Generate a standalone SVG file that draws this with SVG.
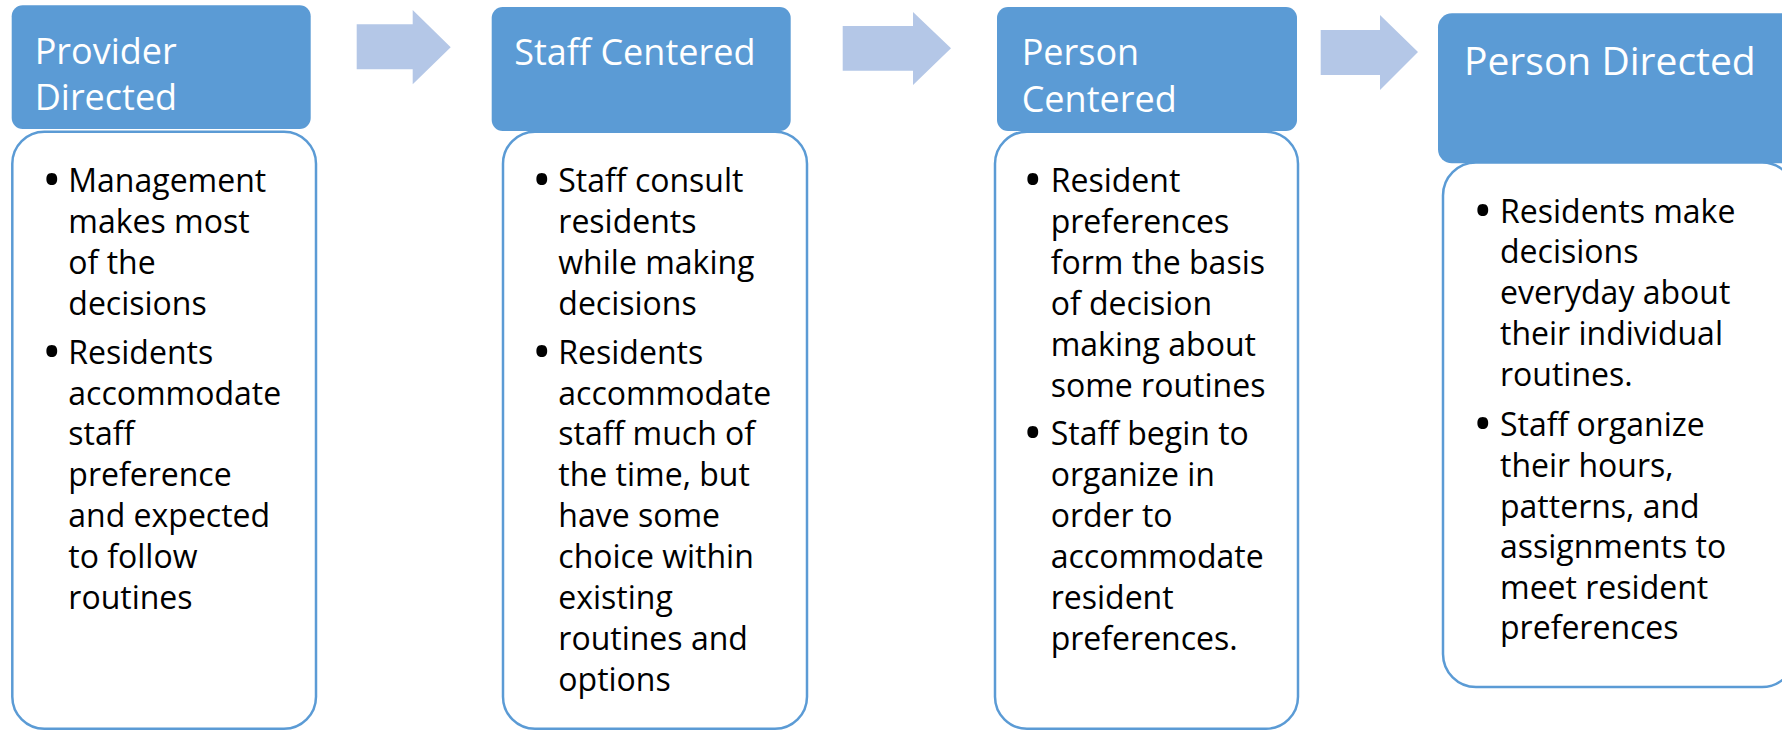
<svg xmlns="http://www.w3.org/2000/svg" width="1782" height="731" viewBox="0 0 1782 731">
  <style>
    .hdr { fill: #5B9BD5; }
    .body { fill: #FFFFFF; stroke: #5B9BD5; stroke-width: 2.5; }
    .arrow { fill: #B4C7E7; }
    .title { font-family: "Open Sans", "Noto Sans", sans-serif; font-size: 36px; fill: #FFFFFF; }
    .title4 { font-size: 39px; }
    .txt { font-family: "Open Sans", "Noto Sans", sans-serif; font-size: 32px; fill: #000000; }
    .blt { font-family: "Open Sans", "Noto Sans", sans-serif; font-size: 52px; fill: #000000; }
  </style>
  <rect width="1782" height="731" fill="#FFFFFF"/>

  <g id="connectors">
    <polygon class="arrow" points="356.7,24.3 412.7,24.3 412.7,10 450.7,47.3 412.7,84.3 412.7,69.3 356.7,69.3"/>
    <polygon class="arrow" points="842.7,26 913,26 913,12 951,48.3 913,85 913,70.7 842.7,70.7"/>
    <polygon class="arrow" points="1320.7,30 1380,30 1380,15 1418,52 1380,90 1380,75 1320.7,75"/>
  </g>

  <g id="node-provider-directed">
    <rect class="hdr" x="11.7" y="5.3" width="299" height="123.7" rx="11"/>
    <text class="title"><tspan x="34.7" y="64">Provider</tspan><tspan x="34.7" y="110">Directed</tspan></text>
    <rect class="body" x="12.3" y="131.7" width="303.7" height="597" rx="32"/>
    <text class="blt"><tspan x="42" y="198">•</tspan><tspan x="42" y="369.5">•</tspan></text>
    <text class="txt">
      <tspan x="68.3" y="192.1">Management</tspan>
      <tspan x="68.3" y="233">makes most</tspan>
      <tspan x="68.3" y="273.9">of the</tspan>
      <tspan x="68.3" y="314.9">decisions</tspan>
      <tspan x="68.3" y="363.6">Residents</tspan>
      <tspan x="68.3" y="404.5">accommodate</tspan>
      <tspan x="68.3" y="445.4">staff</tspan>
      <tspan x="68.3" y="486.3">preference</tspan>
      <tspan x="68.3" y="527.2">and expected</tspan>
      <tspan x="68.3" y="568.2">to follow</tspan>
      <tspan x="68.3" y="609.1">routines</tspan>
    </text>
  </g>

  <g id="node-staff-centered">
    <rect class="hdr" x="491.7" y="7" width="299" height="124" rx="11"/>
    <text class="title"><tspan x="514.3" y="65">Staff Centered</tspan></text>
    <rect class="body" x="503" y="131.7" width="304" height="597" rx="32"/>
    <text class="blt"><tspan x="532" y="198">•</tspan><tspan x="532" y="369.5">•</tspan></text>
    <text class="txt">
      <tspan x="558.3" y="192.1">Staff consult</tspan>
      <tspan x="558.3" y="233">residents</tspan>
      <tspan x="558.3" y="273.9">while making</tspan>
      <tspan x="558.3" y="314.9">decisions</tspan>
      <tspan x="558.3" y="363.6">Residents</tspan>
      <tspan x="558.3" y="404.5">accommodate</tspan>
      <tspan x="558.3" y="445.4">staff much of</tspan>
      <tspan x="558.3" y="486.3">the time, but</tspan>
      <tspan x="558.3" y="527.2">have some</tspan>
      <tspan x="558.3" y="568.2">choice within</tspan>
      <tspan x="558.3" y="609.1">existing</tspan>
      <tspan x="558.3" y="650">routines and</tspan>
      <tspan x="558.3" y="690.9">options</tspan>
    </text>
  </g>

  <g id="node-person-centered">
    <rect class="hdr" x="997" y="7" width="300" height="124" rx="11"/>
    <text class="title"><tspan x="1021.7" y="65">Person</tspan><tspan x="1021.7" y="111.7">Centered</tspan></text>
    <rect class="body" x="995" y="131.7" width="303" height="597" rx="32"/>
    <text class="blt"><tspan x="1023" y="198">•</tspan><tspan x="1023" y="451.3">•</tspan></text>
    <text class="txt">
      <tspan x="1050.7" y="192.1">Resident</tspan>
      <tspan x="1050.7" y="233">preferences</tspan>
      <tspan x="1050.7" y="273.9">form the basis</tspan>
      <tspan x="1050.7" y="314.9">of decision</tspan>
      <tspan x="1050.7" y="355.8">making about</tspan>
      <tspan x="1050.7" y="396.7">some routines</tspan>
      <tspan x="1050.7" y="445.4">Staff begin to</tspan>
      <tspan x="1050.7" y="486.3">organize in</tspan>
      <tspan x="1050.7" y="527.2">order to</tspan>
      <tspan x="1050.7" y="568.2">accommodate</tspan>
      <tspan x="1050.7" y="609.1">resident</tspan>
      <tspan x="1050.7" y="650">preferences.</tspan>
    </text>
  </g>

  <g id="node-person-directed">
    <rect class="hdr" x="1438" y="13.3" width="357" height="150" rx="14"/>
    <text class="title title4"><tspan x="1464" y="75">Person Directed</tspan></text>
    <rect class="body" x="1443" y="162.5" width="352" height="524.5" rx="33"/>
    <text class="blt"><tspan x="1473" y="228.7">•</tspan><tspan x="1473" y="441.8">•</tspan></text>
    <text class="txt">
      <tspan x="1500" y="222.8">Residents make</tspan>
      <tspan x="1500" y="263.4">decisions</tspan>
      <tspan x="1500" y="304">everyday about</tspan>
      <tspan x="1500" y="345">their individual</tspan>
      <tspan x="1500" y="386">routines.</tspan>
      <tspan x="1500" y="435.9">Staff organize</tspan>
      <tspan x="1500" y="476.5">their hours,</tspan>
      <tspan x="1500" y="517.5">patterns, and</tspan>
      <tspan x="1500" y="558">assignments to</tspan>
      <tspan x="1500" y="599">meet resident</tspan>
      <tspan x="1500" y="638.7">preferences</tspan>
    </text>
  </g>
</svg>
